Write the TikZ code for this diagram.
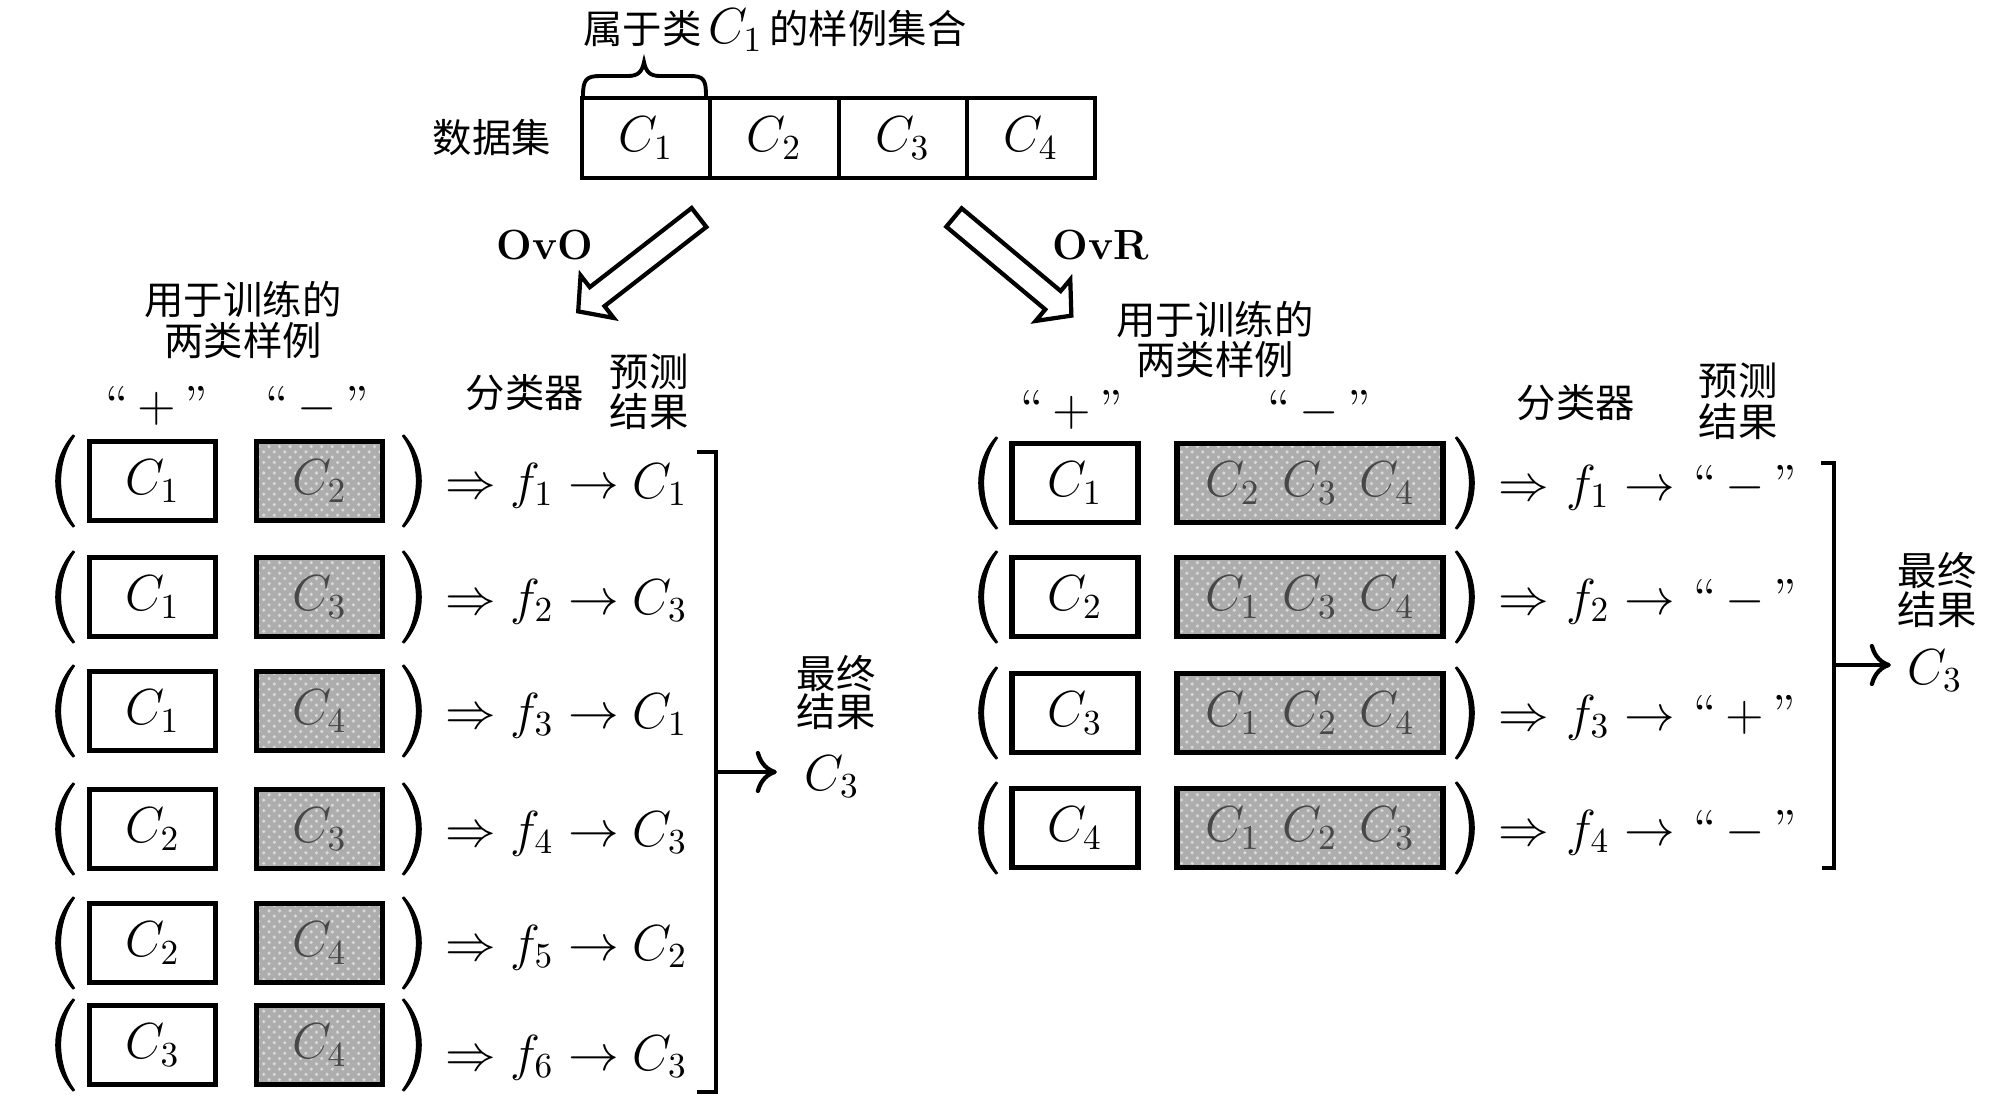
\RequirePackage{fix-cm}
\documentclass[tikz,border=0pt]{standalone}
\usepackage{fontspec}
\newfontfamily\cjk{Noto Sans CJK SC}
\usetikzlibrary{arrows.meta,patterns}
\tikzset{
 cjklab/.style={font=\cjk\fontsize{11.2}{13.4}\selectfont, inner sep=0pt},
 mthb/.style={font=\fontsize{14.4}{17}\selectfont, inner sep=0pt, anchor=base},
 mthc/.style={font=\fontsize{14.4}{17}\selectfont, inner sep=0pt},
 cellbox/.style={draw, line width=1.1pt, minimum width=1.2825cm, minimum height=0.8cm, inner sep=0pt, font=\fontsize{14.4}{17}\selectfont},
 posbox/.style={draw, line width=1.5pt, minimum width=1.26cm, minimum height=0.79cm, inner sep=0pt, font=\fontsize{14.4}{17}\selectfont},
 negbox/.style={posbox, preaction={fill=black!32}, pattern=crosshatch dots, pattern color=white!85!black, text=black!72},
 ovlab/.style={font=\bfseries\fontsize{12}{14}\selectfont, inner sep=0pt},
 linkline/.style={line width=1.2pt},
 resarrow/.style={line width=1.2pt, -{Computer Modern Rightarrow[length=6pt,width=12pt]}},
 hollow/.style={line width=1.2pt, fill=white},
 lpar/.pic={\filldraw[line width=0.3pt] (8,-46) .. controls (-15,-20) and (-15,20) .. (8,46) -- (9.5,45) .. controls (-9,20) and (-9,-20) .. (9.5,-45) -- cycle;},
 rpar/.pic={\filldraw[line width=0.3pt] (-8,-46) .. controls (15,-20) and (15,20) .. (-8,46) -- (-9.5,45) .. controls (9,20) and (9,-20) .. (-9.5,-45) -- cycle;},
 bigarrow/.pic={\draw[hollow] (0,-12) -- (129,-12) -- (129,-27) -- (153,0) -- (129,27) -- (129,12) -- (0,12) -- cycle;}
}
\begin{document}
\begin{tikzpicture}[x=0.01cm,y=-0.01cm]
\useasboundingbox (0,0) rectangle (2002,1106);

% ---------- top: data set ----------
\node[cjklab] (title) at (775,30) {属于类\,{\fontsize{14.4}{17}\selectfont$C_1$}\,的样例集合};
\draw[line width=1.1pt] (583,96) .. controls (583,80) and (586,76) .. (600,76) -- (628,76) .. controls (638,76) and (642,72) .. (644,62) .. controls (646,72) and (650,76) .. (660,76) -- (690,76) .. controls (704,76) and (706,80) .. (706,96);
\node[cjklab] (dslab) at (492,138) {数据集};
\node[cellbox] (D1) at (646.1,138) {$C_1$};
\node[cellbox] (D2) at (774.4,138) {$C_2$};
\node[cellbox] (D3) at (902.6,138) {$C_3$};
\node[cellbox] (D4) at (1030.9,138) {$C_4$};

\pic[rotate=217.85] at (699,217.5) {bigarrow};
\pic[rotate=-39.9] at (954,217.5) {bigarrow};
\node[ovlab] (ovo) at (545,245) {OvO};
\node[ovlab] (ovr) at (1101,245) {OvR};

% ---------- left panel: OvO ----------
\node[cjklab] (Lt1) at (243,300) {用于训练的};
\node[cjklab] (Lt2) at (243,340) {两类样例};
\node[mthc] (Lplus) at (157,406) {“\,$+$\,”};
\node[mthc] (Lminus) at (317,406) {“\,$-$\,”};
\node[cjklab] (Lcls) at (525,393) {分类器};
\node[cjklab] (Lpr1) at (649,372) {预测};
\node[cjklab] (Lpr2) at (649,412) {结果};

\foreach \i/\y/\p/\n/\q/\bo in {1/481/1/2/1/17, 2/597/1/3/3/17, 3/711/1/4/1/17, 4/829/2/3/3/17, 5/943/2/4/2/17, 6/1045/3/4/3/25} {
  \pic at (65,\y) {lpar};
  \node[posbox] (Lp\i) at (152.5,\y) {$C_{\p}$};
  \node[negbox] (Ln\i) at (319.5,\y) {$C_{\n}$};
  \pic at (412,\y) {rpar};
  \node[mthb] (Limp\i) at (471,{\y+\bo}) {$\Rightarrow$};
  \node[mthb] (Lf\i) at (532,{\y+\bo}) {$f_{\i}$};
  \node[mthb] (Lto\i) at (594,{\y+\bo}) {$\rightarrow$};
  \node[mthb] (Lc\i) at (660,{\y+\bo}) {$C_{\q}$};
}
\draw[linkline] (697,452) -- (716,452) -- (716,1092) -- (697,1092);
\node[cjklab] (Lfin1) at (836,674) {最终};
\node[cjklab] (Lfin2) at (836,712) {结果};
\node[mthb] (Lres) at (832,790) {$C_3$};
\coordinate (Lbr) at (716,772);
\draw[resarrow] (Lbr) -- ([xshift=-0.27cm]Lres.west |- Lbr);

% ---------- right panel: OvR ----------
\node[cjklab] (Rt1) at (1215,320) {用于训练的};
\node[cjklab] (Rt2) at (1215,359) {两类样例};
\node[mthc] (Rplus) at (1072,410) {“\,$+$\,”};
\node[mthc] (Rminus) at (1319,410) {“\,$-$\,”};
\node[cjklab] (Rcls) at (1576,403) {分类器};
\node[cjklab] (Rpr1) at (1738,381) {预测};
\node[cjklab] (Rpr2) at (1738,422) {结果};

\foreach \i/\y/\p/\n/\sg in {1/483/1/{C_2\;\,C_3\;\,C_4}/-, 2/597/2/{C_1\;\,C_3\;\,C_4}/-, 3/713/3/{C_1\;\,C_2\;\,C_4}/+, 4/828/4/{C_1\;\,C_2\;\,C_3}/-} {
  \pic at (988,\y) {lpar};
  \node[posbox] (Rp\i) at (1075,\y) {$C_{\p}$};
  \node[negbox, minimum width=2.66cm] (Rn\i) at (1310,\y) {$\n$};
  \pic at (1465,\y) {rpar};
  \node[mthb] (Rimp\i) at (1524,{\y+17}) {$\Rightarrow$};
  \node[mthb] (Rf\i) at (1588,{\y+17}) {$f_{\i}$};
  \node[mthb] (Rto\i) at (1650,{\y+17}) {$\rightarrow$};
  \node[mthb] (Rc\i) at (1745,{\y+17}) {“\,$\sg$\,”};
}
\draw[linkline] (1821,463) -- (1834,463) -- (1834,868) -- (1822,868);
\node[cjklab] (Rfin1) at (1937,571) {最终};
\node[cjklab] (Rfin2) at (1937,610) {结果};
\node[mthb] (Rres) at (1935,684) {$C_3$};
\coordinate (Rbr) at (1834,665);
\draw[resarrow] (Rbr) -- ([xshift=-0.16cm]Rres.west |- Rbr);
\end{tikzpicture}
\end{document}
